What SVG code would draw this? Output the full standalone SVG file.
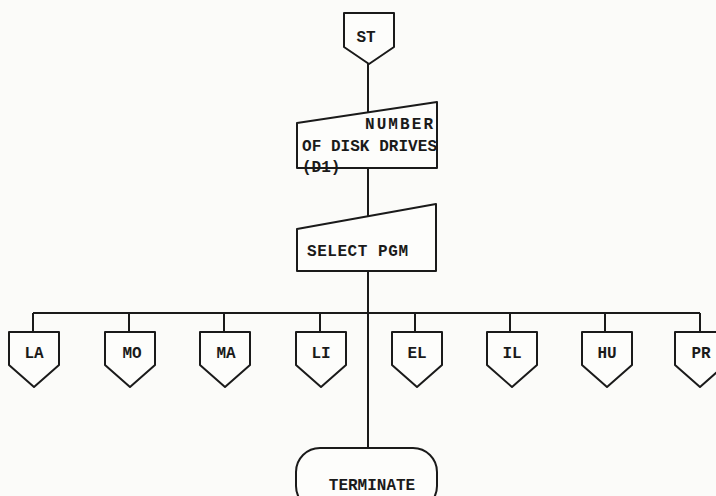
<svg xmlns="http://www.w3.org/2000/svg" width="716" height="496" viewBox="0 0 716 496">
<style>
.s{fill:none;stroke:#1a1a1a;stroke-width:2;stroke-linejoin:round}
.b{fill:#fdfdfb;stroke:#1a1a1a;stroke-width:2;stroke-linejoin:round}
.t{font-family:"Liberation Mono",monospace;font-weight:bold;font-size:16px;fill:#1a1a1a}
.c{text-anchor:middle}
</style>
<rect width="716" height="496" fill="#fbfbf9"/>
<g id="connectors" class="s">
<path d="M368 64V113M368 168V217M368 271V448"/>
<path d="M33 313H700"/>
<path d="M33 313V332M129 313V332M224 313V332M320 313V332M415 313V332M510 313V332M605 313V332M700 313V332"/>
</g>
<g id="st"><path class="b" d="M344 13H394V47L369 64L344 47Z"/><text class="t c" x="366" y="42">ST</text></g>
<g id="number"><path class="b" d="M297 123L437 102V168H297Z"/>
<text class="t" x="365" y="129" textLength="68">NUMBER</text>
<text class="t" x="302" y="151" textLength="135">OF DISK DRIVES</text>
<text class="t" x="302" y="172">(D1)</text></g>
<g id="select"><path class="b" d="M297 229L436 204V271H297Z"/><text class="t" x="307" y="256" textLength="101">SELECT PGM</text></g>
<g id="la"><path class="b" d="M9 332H59V365L34 387L9 365Z"/><text class="t c" x="34" y="358">LA</text></g>
<g id="mo"><path class="b" d="M105 332H155V365L130 387L105 365Z"/><text class="t c" x="132" y="358">MO</text></g>
<g id="ma"><path class="b" d="M200 332H250V365L225 387L200 365Z"/><text class="t c" x="226" y="358">MA</text></g>
<g id="li"><path class="b" d="M296 332H346V365L321 387L296 365Z"/><text class="t c" x="321" y="358">LI</text></g>
<g id="el"><path class="b" d="M392 332H442V365L417 387L392 365Z"/><text class="t c" x="417" y="358">EL</text></g>
<g id="il"><path class="b" d="M487 332H537V365L512 387L487 365Z"/><text class="t c" x="512" y="358">IL</text></g>
<g id="hu"><path class="b" d="M582 332H632V365L607 387L582 365Z"/><text class="t c" x="607" y="358">HU</text></g>
<g id="pr"><path class="b" d="M675 332H725V365L700 387L675 365Z"/><text class="t c" x="701" y="358">PR</text></g>
<g id="terminate"><rect class="b" x="296" y="448" width="141" height="62" rx="24"/><text class="t c" x="372" y="490">TERMINATE</text></g>
</svg>
